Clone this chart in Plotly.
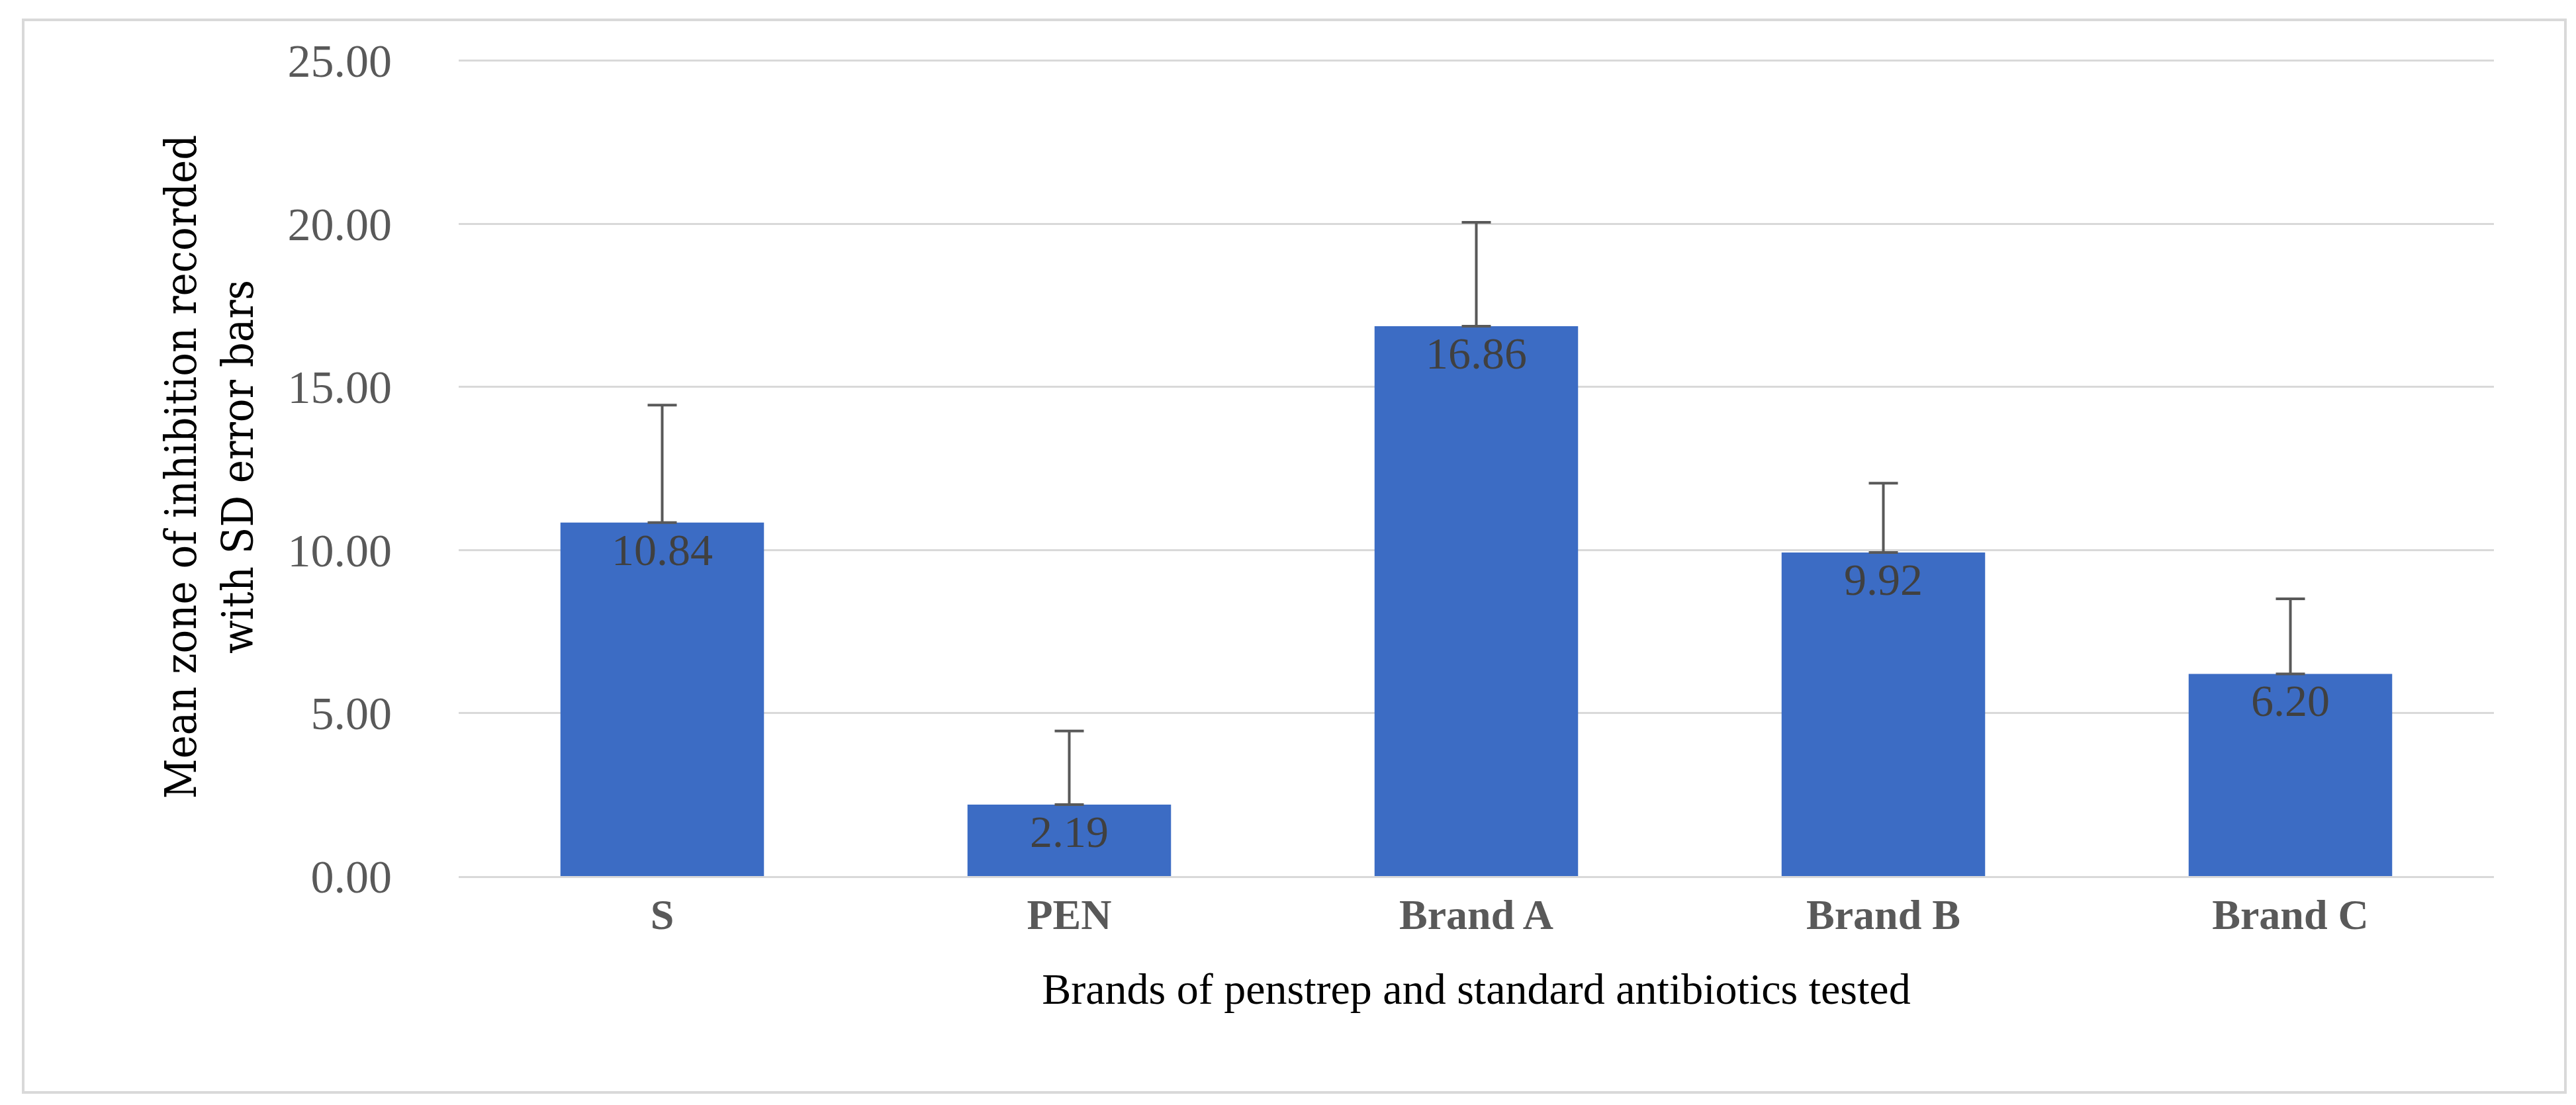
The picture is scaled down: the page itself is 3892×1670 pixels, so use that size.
import plotly.graph_objects as go

brands = ['S', 'PEN', 'Brand A', 'Brand B', 'Brand C']
means = [10.84, 2.19, 16.86, 9.92, 6.20]
sds = [3.60, 2.26, 3.19, 2.13, 2.30]
y_ticks = [0, 5, 10, 15, 20, 25]

W, H = 3892, 1670
L, R, T, B = 685, 132, 79, 354
pw, ph = W - L - R, H - T - B

fig = go.Figure(go.Bar(
    x=brands, y=means,
    error_y=dict(type='data', array=sds, symmetric=False, arrayminus=[0] * len(sds),
                 color='#595959', thickness=4, width=22),
    marker=dict(color='#3C6CC4', line=dict(width=0)),
    width=0.5,
    text=[f'<br>{v:.2f}' for v in means], textposition='inside', insidetextanchor='end',
    textfont=dict(family='Liberation Serif', size=68, color='#404040'),
))

# outer frame around the whole chart
fig.add_shape(type='rect', xref='paper', yref='paper',
              x0=(27 - L) / pw, x1=(3868 - L) / pw,
              y0=-(1643 - T - ph) / ph, y1=1 + (T - 22) / ph,
              line=dict(color='#d9d9d9', width=4))

fig.update_layout(
    width=W, height=H,
    margin=dict(l=L, r=R, t=T, b=B),
    plot_bgcolor='white', paper_bgcolor='white',
    showlegend=False,
    font=dict(family='Liberation Serif', color='#595959'),
    uniformtext=dict(minsize=10, mode='show'),
    xaxis=dict(tickfont=dict(size=64, color='#595959', family='Liberation Serif'),
               showline=True, linecolor='#d9d9d9', linewidth=3, ticks='',
               title=dict(text='Brands of penstrep and standard antibiotics tested',
                          font=dict(size=66, color='black'), standoff=55)),
    yaxis=dict(range=[0, 25.1], tickvals=y_ticks, ticktext=[f'{v:.2f}' for v in y_ticks],
               tickfont=dict(size=70, color='#595959'), gridcolor='#d9d9d9', gridwidth=3,
               zeroline=False, ticklabelstandoff=100,
               title=dict(text='Mean zone of inhibition recorded<br>with SD error bars',
                          font=dict(size=66, color='black', family='DejaVu Serif Condensed'),
                          standoff=30)),
)
fig.update_xaxes(tickvals=brands, ticktext=[f'<b>{b}</b>' for b in brands])

fig.write_html('out.html')
